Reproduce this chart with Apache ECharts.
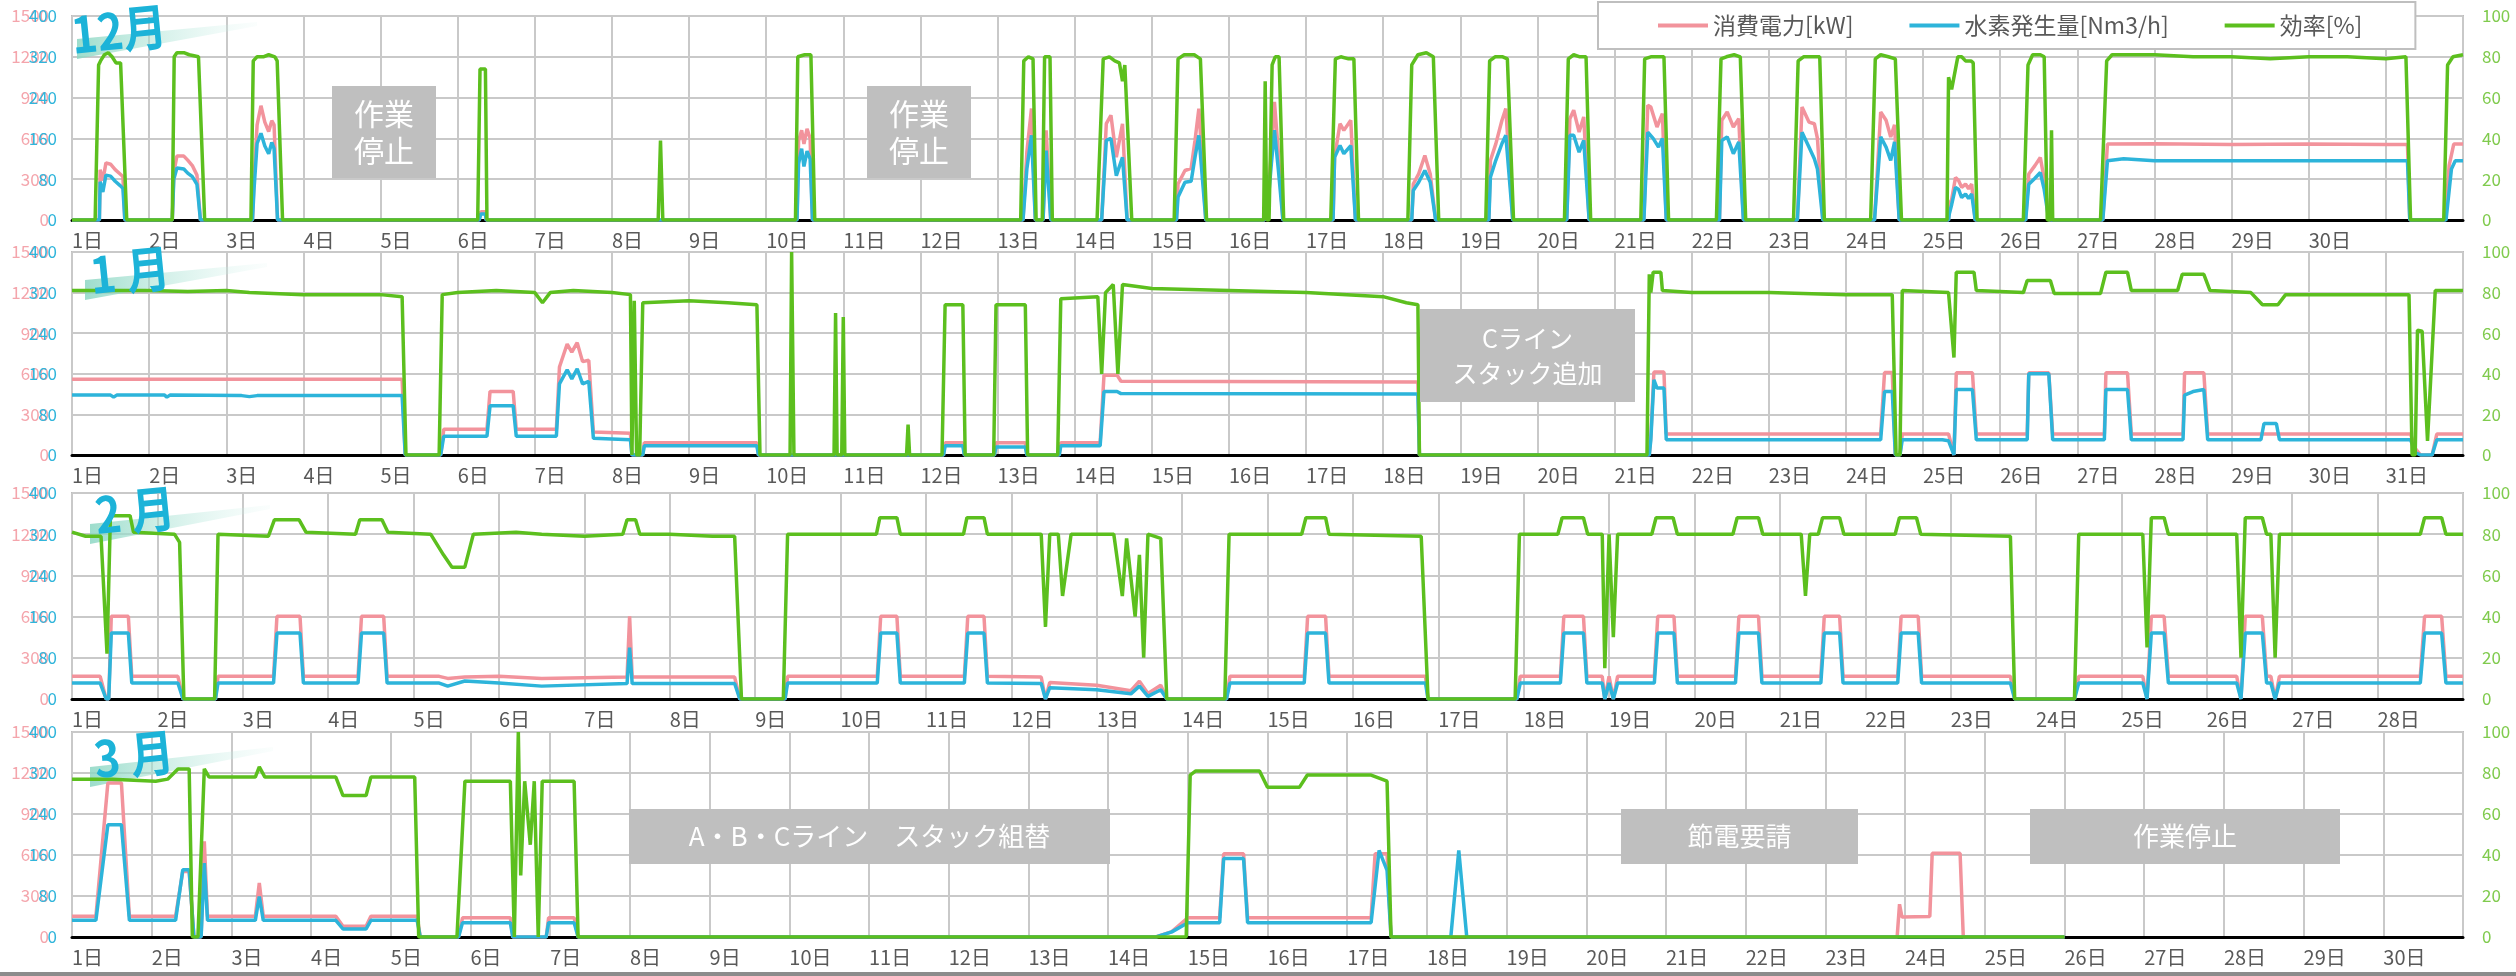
<!DOCTYPE html>
<html><head><meta charset="utf-8">
<script src="https://cdn.jsdelivr.net/npm/echarts@6/dist/echarts.min.js"></script>
<style>html,body{margin:0;padding:0;background:#fff}#c{width:2516px;height:976px}</style>
</head><body><div id="c"></div>
<script>
// ---------- data ----------
const seriesNames = ['消費電力[kW]', '水素発生量[Nm3/h]', '効率[%]'];
const monthTitles = ['12月', '1 月', '2 月', '3 月'];
const panelDays = [31, 31, 28, 30];
const labeledDays = [30, 31, 28, 30];
const powerAxis = [0, 1500, 300];
const h2Axis = [0, 400, 80];
const effAxis = [0, 100, 20];

// [day offset from 1日 00:00, value]
const decPower = [[0,0],
[0.355,0],[0.365,370],[0.40,290],[0.44,420],[0.50,410],[0.56,370],[0.62,340],[0.66,320],[0.685,0],
[1.30,0],[1.32,350],[1.36,470],[1.45,470],[1.50,440],[1.56,400],[1.62,330],[1.665,0],
[2.34,0],[2.36,300],[2.40,700],[2.45,840],[2.50,720],[2.55,650],[2.59,730],[2.62,700],[2.665,0],
[5.28,0],[5.30,60],[5.36,60],[5.37,0],
[9.40,0],[9.42,580],[9.46,660],[9.49,560],[9.53,670],[9.57,600],[9.60,0],
[12.33,0],[12.38,500],[12.44,820],[12.49,0],[12.59,0],[12.63,660],[12.69,0],
[13.35,0],[13.41,708],[13.47,770],[13.54,462],[13.62,708],[13.68,0],
[14.32,0],[14.34,265],[14.43,364],[14.51,380],[14.56,585],[14.61,819],[14.70,0],
[15.46,0],[15.50,100],[15.55,500],[15.59,868],[15.64,500],[15.70,0],
[16.35,0],[16.37,462],[16.44,708],[16.49,659],[16.58,733],[16.64,0],
[17.37,0],[17.39,265],[17.46,339],[17.54,474],[17.61,339],[17.68,0],
[18.37,0],[18.39,437],[18.46,560],[18.54,733],[18.59,819],[18.68,0],
[19.38,0],[19.42,745],[19.47,807],[19.54,647],[19.60,758],[19.67,0],
[20.38,0],[20.43,843],[20.47,830],[20.55,684],[20.62,782],[20.67,0],
[21.36,0],[21.39,733],[21.46,794],[21.54,684],[21.61,745],[21.67,0],
[22.37,0],[22.43,831],[22.52,720],[22.59,708],[22.63,600],[22.70,0],
[23.37,0],[23.45,794],[23.52,733],[23.58,610],[23.63,700],[23.69,0],
[24.33,0],[24.34,117],[24.37,150],[24.42,313],[24.46,290],[24.50,240],[24.55,264],[24.59,230],[24.63,264],[24.675,0],
[25.33,0],[25.37,338],[25.45,400],[25.52,460],[25.57,300],[25.63,0],
[26.33,0],[26.39,558],[27.0,560],[28.0,556],[29.0,558],[30.0,555],[30.28,555],[30.31,0],[30.77,0],[30.82,400],[30.88,558],[31,558]];

const decH2 = [[0,0],
[0.355,0],[0.365,75],[0.40,55],[0.44,88],[0.50,86],[0.56,76],[0.62,68],[0.66,62],[0.685,0],
[1.30,0],[1.32,80],[1.36,102],[1.45,100],[1.50,92],[1.56,85],[1.62,70],[1.665,0],
[2.34,0],[2.36,60],[2.40,150],[2.45,170],[2.50,145],[2.55,130],[2.59,152],[2.62,140],[2.665,0],
[5.28,0],[5.30,12],[5.36,12],[5.37,0],
[9.40,0],[9.42,110],[9.46,140],[9.49,105],[9.53,135],[9.57,120],[9.60,0],
[12.33,0],[12.38,100],[12.44,166],[12.49,0],[12.59,0],[12.63,136],[12.69,0],
[13.35,0],[13.41,156],[13.47,160],[13.54,87],[13.62,123],[13.68,0],
[14.32,0],[14.34,45],[14.43,74],[14.51,76],[14.56,123],[14.61,166],[14.70,0],
[15.46,0],[15.50,20],[15.55,110],[15.59,176],[15.64,100],[15.70,0],
[16.35,0],[16.37,123],[16.44,146],[16.49,130],[16.58,146],[16.64,0],
[17.37,0],[17.39,58],[17.46,74],[17.54,97],[17.61,74],[17.68,0],
[18.37,0],[18.39,84],[18.46,117],[18.54,150],[18.59,166],[18.68,0],
[19.38,0],[19.42,166],[19.47,166],[19.54,133],[19.60,156],[19.67,0],
[20.38,0],[20.43,172],[20.50,160],[20.57,143],[20.62,160],[20.67,0],
[21.36,0],[21.39,156],[21.46,163],[21.54,130],[21.61,153],[21.67,0],
[22.37,0],[22.43,172],[22.52,143],[22.59,120],[22.63,100],[22.70,0],
[23.37,0],[23.45,163],[23.52,143],[23.58,117],[23.63,153],[23.69,0],
[24.33,0],[24.34,12],[24.37,30],[24.42,64],[24.46,60],[24.50,44],[24.55,51],[24.59,42],[24.63,51],[24.675,0],
[25.33,0],[25.37,70],[25.45,82],[25.52,93],[25.57,60],[25.63,0],
[26.33,0],[26.39,116],[26.6,120],[26.8,118],[27.0,116],[30.28,116],[30.31,0],[30.78,0],[30.85,100],[30.90,116],[31,116]];

const decEff = [[0,0],
[0.30,0],[0.345,76],[0.37,78],[0.42,81],[0.47,82],[0.52,80],[0.57,77],[0.63,77],[0.71,0],
[1.30,0],[1.325,80],[1.36,82],[1.45,82],[1.52,81],[1.64,80],[1.72,0],
[2.32,0],[2.35,78],[2.40,80],[2.48,80],[2.55,81],[2.63,80],[2.66,78],[2.73,0],
[5.26,0],[5.29,74],[5.36,74],[5.38,0],
[7.60,0],[7.63,39],[7.66,0],
[9.38,0],[9.41,80],[9.50,81],[9.58,81],[9.63,0],
[12.30,0],[12.34,78],[12.40,80],[12.46,79],[12.50,0],[12.58,0],[12.61,80],[12.68,80],[12.71,0],
[13.29,0],[13.37,79],[13.45,80],[13.52,78],[13.58,77],[13.62,68],[13.65,76],[13.74,0],
[14.29,0],[14.34,79],[14.42,81],[14.55,81],[14.63,79],[14.71,0],
[15.45,0],[15.47,68],[15.49,0],[15.52,0],[15.56,76],[15.60,80],[15.65,80],[15.71,0],
[16.32,0],[16.38,79],[16.45,80],[16.55,79],[16.62,79],[16.68,0],
[17.32,0],[17.37,76],[17.45,81],[17.56,82],[17.65,80],[17.72,0],
[18.33,0],[18.38,78],[18.45,80],[18.55,80],[18.61,79],[18.69,0],
[19.35,0],[19.40,79],[19.47,81],[19.55,80],[19.63,80],[19.69,0],
[20.34,0],[20.39,79],[20.47,80],[20.57,80],[20.64,80],[20.70,0],
[21.32,0],[21.38,79],[21.45,80],[21.55,81],[21.63,80],[21.70,0],
[22.32,0],[22.38,78],[22.45,80],[22.55,80],[22.66,80],[22.72,0],
[23.32,0],[23.38,79],[23.45,81],[23.55,80],[23.64,79],[23.72,0],
[24.31,0],[24.33,70],[24.37,64],[24.45,80],[24.50,80],[24.55,78],[24.62,78],[24.65,77],[24.70,0],
[25.30,0],[25.36,76],[25.42,81],[25.52,81],[25.57,80],[25.61,0],[25.65,0],[25.665,44],[25.68,0],
[26.30,0],[26.38,78],[26.45,81],[27.0,81],[27.5,80],[28.0,80],[28.5,79],[29.0,80],[29.5,80],[30.0,79],[30.26,80],[30.32,0],[30.75,0],[30.80,76],[30.87,80],[31,81]];

const janPower = [[0,560],[4.28,560],[4.32,0],[4.78,0],[4.82,190],[5.38,190],[5.42,470],[5.72,470],[5.76,190],[6.28,190],[6.32,650],[6.42,820],[6.48,760],[6.55,830],[6.62,690],[6.70,700],[6.76,170],[7.24,160],[7.26,0],[7.40,0],[7.42,90],[8.88,90],[8.90,0],[11.3,0],[11.32,90],[11.55,90],[11.57,0],[11.96,0],[11.98,90],[12.36,90],[12.38,0],[12.8,0],[12.82,90],[13.33,90],[13.38,590],[13.55,590],[13.6,545],[17.45,540],[17.47,0],[20.45,0],[20.47,140],[20.51,613],[20.64,613],[20.67,155],[23.45,155],[23.50,609],[23.60,609],[23.64,0],[23.70,0],[23.73,155],[24.33,155],[24.40,0],[24.43,607],[24.64,607],[24.69,155],[25.35,155],[25.37,607],[25.63,607],[25.68,155],[26.35,155],[26.37,607],[26.65,607],[26.70,155],[27.37,155],[27.39,607],[27.64,607],[27.69,155],[30.32,155],[30.38,49],[30.45,0],[30.6,0],[30.66,155],[31,155]];

const janH2 = [[0,118],[0.5,118],[0.54,114],[0.58,118],[1.2,118],[1.23,114],[1.27,118],[2.2,117],[2.3,115],[2.4,117],[4.28,117],[4.32,0],[4.78,0],[4.82,37],[5.38,37],[5.42,97],[5.72,97],[5.76,37],[6.28,37],[6.32,140],[6.42,168],[6.48,150],[6.55,170],[6.62,140],[6.70,145],[6.76,33],[7.24,30],[7.26,0],[7.40,0],[7.42,18],[8.88,18],[8.90,0],[11.3,0],[11.32,18],[11.55,18],[11.57,0],[11.96,0],[11.98,16],[12.36,16],[12.38,0],[12.8,0],[12.82,18],[13.33,18],[13.38,125],[13.55,125],[13.6,121],[17.45,120],[17.47,0],[20.45,0],[20.47,30],[20.51,148],[20.55,132],[20.64,132],[20.67,30],[23.45,30],[23.50,125],[23.60,125],[23.64,0],[23.70,0],[23.73,30],[24.25,30],[24.33,28],[24.40,0],[24.43,129],[24.64,129],[24.69,30],[25.35,30],[25.37,160],[25.63,160],[25.68,30],[26.35,30],[26.37,129],[26.65,129],[26.70,30],[27.37,30],[27.39,118],[27.5,125],[27.64,129],[27.69,30],[28.38,30],[28.42,62],[28.58,62],[28.62,30],[30.32,30],[30.38,5],[30.45,0],[30.6,0],[30.66,30],[31,30]];

const janEff = [[0,81],[1,81],[1.5,80.5],[2,81],[2.3,80],[3,79],[4,79],[4.28,78],[4.33,0],[4.76,0],[4.80,79],[5,80],[5.5,81],[6.0,80],[6.1,75],[6.2,80],[6.5,81],[7.0,80],[7.24,79],[7.26,0],[7.29,76],[7.32,0],[7.36,0],[7.40,75],[8.0,76],[8.5,75],[8.88,74],[8.92,0],[9.31,0],[9.33,100],[9.36,0],[9.88,0],[9.90,70],[9.92,0],[9.98,0],[10.0,68],[10.02,0],[10.82,0],[10.84,15],[10.86,0],[11.28,0],[11.32,74],[11.55,74],[11.58,0],[11.95,0],[11.98,74],[12.36,74],[12.39,0],[12.78,0],[12.82,77],[13.3,78],[13.35,40],[13.40,80],[13.5,84],[13.56,40],[13.62,84],[14.0,82],[15.0,81],[16.0,80],[17.0,78],[17.3,75],[17.45,74],[17.47,0],[20.42,0],[20.45,89],[20.47,80],[20.5,90],[20.6,90],[20.62,81],[21.0,80],[22.0,80],[23.0,79],[23.6,79],[23.65,0],[23.70,0],[23.73,81],[24.33,80],[24.40,48],[24.43,90],[24.66,90],[24.69,81],[25.3,80],[25.35,86],[25.65,86],[25.7,79.5],[26.3,79.5],[26.37,90],[26.65,90],[26.7,81],[27.3,81],[27.36,89],[27.64,89],[27.72,81],[28.25,80],[28.4,74],[28.6,74],[28.7,79],[29.5,79],[30.3,79],[30.34,0],[30.38,0],[30.41,61.5],[30.47,61],[30.54,7],[30.64,81],[31,81]];

const febPower = [[0,165],[0.33,165],[0.40,0],[0.43,0],[0.46,602],[0.66,602],[0.70,165],[1.24,165],[1.30,0],[1.68,0],[1.71,165],[2.36,165],[2.40,602],[2.67,602],[2.71,165],[3.35,165],[3.39,602],[3.65,602],[3.69,165],[4.3,165],[4.4,150],[4.6,160],[5.0,165],[5.5,150],[6.5,160],[6.53,602],[6.56,160],[7.76,160],[7.82,0],[8.35,0],[8.38,165],[9.43,165],[9.47,602],[9.66,602],[9.70,165],[10.45,165],[10.49,602],[10.68,602],[10.72,165],[11.35,160],[11.4,0],[11.45,120],[12.0,100],[12.4,60],[12.5,130],[12.6,40],[12.75,100],[12.82,0],[13.52,0],[13.56,165],[14.43,165],[14.47,602],[14.68,602],[14.72,165],[15.85,165],[15.88,0],[16.92,0],[16.96,165],[17.43,165],[17.47,602],[17.70,602],[17.74,165],[17.92,165],[17.95,0],[18.0,165],[18.05,0],[18.1,165],[18.53,165],[18.57,602],[18.76,602],[18.8,165],[19.48,165],[19.52,602],[19.75,602],[19.79,165],[20.48,165],[20.52,602],[20.70,602],[20.74,165],[21.38,165],[21.42,602],[21.62,602],[21.66,165],[22.70,165],[22.75,0],[23.45,0],[23.5,165],[24.25,165],[24.3,0],[24.35,602],[24.5,602],[24.55,165],[25.35,165],[25.4,0],[25.45,602],[25.65,602],[25.7,165],[25.75,165],[25.8,0],[25.85,165],[27.5,165],[27.55,602],[27.75,602],[27.8,165],[28,165]];

const febH2 = [[0,31],[0.33,31],[0.40,0],[0.43,0],[0.46,128],[0.66,128],[0.70,31],[1.24,31],[1.30,0],[1.68,0],[1.71,31],[2.36,31],[2.40,128],[2.67,128],[2.71,31],[3.35,31],[3.39,128],[3.65,128],[3.69,31],[4.3,31],[4.4,25],[4.6,35],[5.0,31],[5.5,25],[6.5,30],[6.53,100],[6.56,30],[7.76,30],[7.82,0],[8.35,0],[8.38,31],[9.43,31],[9.47,128],[9.66,128],[9.70,31],[10.45,31],[10.49,128],[10.68,128],[10.72,31],[11.35,30],[11.4,0],[11.45,22],[12.0,18],[12.4,10],[12.5,25],[12.6,5],[12.75,18],[12.82,0],[13.52,0],[13.56,31],[14.43,31],[14.47,128],[14.68,128],[14.72,31],[15.85,31],[15.88,0],[16.92,0],[16.96,31],[17.43,31],[17.47,128],[17.70,128],[17.74,31],[17.92,31],[17.95,0],[18.0,31],[18.05,0],[18.1,31],[18.53,31],[18.57,128],[18.76,128],[18.8,31],[19.48,31],[19.52,128],[19.75,128],[19.79,31],[20.48,31],[20.52,128],[20.70,128],[20.74,31],[21.38,31],[21.42,128],[21.62,128],[21.66,31],[22.70,31],[22.75,0],[23.45,0],[23.5,31],[24.25,31],[24.3,0],[24.35,128],[24.5,128],[24.55,31],[25.35,31],[25.4,0],[25.45,128],[25.65,128],[25.7,31],[25.75,31],[25.8,0],[25.85,31],[27.5,31],[27.55,128],[27.75,128],[27.8,31],[28,31]];

const febEff = [[0,81],[0.16,79],[0.34,79],[0.41,22],[0.45,89],[0.68,89],[0.72,81],[1.2,80],[1.26,76],[1.31,0],[1.67,0],[1.71,80],[2.3,79],[2.37,87],[2.66,87],[2.74,81],[3.32,80],[3.37,87],[3.63,87],[3.70,81],[4.2,80],[4.35,70],[4.45,64],[4.6,64],[4.7,80],[5.2,81],[5.5,80],[6.0,79],[6.45,80],[6.5,87],[6.6,87],[6.65,80],[7.0,80],[7.5,79],[7.76,79],[7.84,0],[8.33,0],[8.38,80],[9.0,80],[9.42,80],[9.46,88],[9.66,88],[9.70,80],[10.44,80],[10.48,88],[10.68,88],[10.72,80],[11.2,80],[11.35,80],[11.4,35],[11.45,80],[11.55,80],[11.6,50],[11.7,80],[12.2,80],[12.3,50],[12.35,78],[12.45,40],[12.5,70],[12.55,20],[12.6,80],[12.75,78],[12.82,0],[13.5,0],[13.55,80],[14.4,80],[14.45,88],[14.68,88],[14.72,80],[15.8,79],[15.88,0],[16.9,0],[16.95,80],[17.4,80],[17.45,88],[17.7,88],[17.75,80],[17.92,80],[17.95,15],[18.0,80],[18.05,30],[18.1,80],[18.5,80],[18.55,88],[18.75,88],[18.8,80],[19.45,80],[19.5,88],[19.75,88],[19.8,80],[20.25,80],[20.3,50],[20.35,80],[20.45,80],[20.5,88],[20.7,88],[20.75,80],[21.35,80],[21.4,88],[21.6,88],[21.65,80],[22.7,79],[22.75,0],[23.45,0],[23.5,80],[24.25,80],[24.3,25],[24.35,88],[24.5,88],[24.55,80],[25.35,80],[25.4,20],[25.45,88],[25.65,88],[25.7,80],[25.75,80],[25.8,20],[25.85,80],[27.5,80],[27.55,88],[27.75,88],[27.8,80],[28,80]];

const marPower = [[0,151],[0.3,151],[0.45,1127],[0.62,1127],[0.72,151],[1.3,151],[1.39,480],[1.47,480],[1.53,0],[1.62,0],[1.66,700],[1.70,151],[2.3,151],[2.35,395],[2.40,151],[3.31,151],[3.4,78],[3.69,78],[3.75,151],[4.33,151],[4.37,0],[4.85,0],[4.9,141],[5.5,141],[5.53,0],[5.95,0],[5.98,141],[6.3,141],[6.35,0],[13.6,0],[13.8,40],[14.0,141],[14.4,141],[14.45,609],[14.7,609],[14.75,141],[16.3,141],[16.35,609],[16.5,609],[16.55,0],[22.90,0],[22.93,240],[22.96,147],[23.31,150],[23.34,612],[23.69,612],[23.73,0],[25,0]];

const marH2 = [[0,32.5],[0.3,32.5],[0.45,219],[0.62,219],[0.72,32.5],[1.3,32.5],[1.39,131],[1.47,131],[1.53,0],[1.62,0],[1.66,144],[1.70,32.5],[2.3,32.5],[2.35,79],[2.40,32.5],[3.31,32.5],[3.4,15.6],[3.69,15.6],[3.75,32.5],[4.33,32.5],[4.37,0],[4.85,0],[4.9,28],[5.5,28],[5.53,0],[5.95,0],[5.98,28],[6.3,28],[6.35,0],[13.6,0],[13.8,10],[14.0,28],[14.4,28],[14.45,153],[14.7,153],[14.75,28],[16.3,28],[16.4,169],[16.5,130],[16.55,0],[17.3,0],[17.4,169],[17.5,0],[25,0]];

const marEff = [[0,77],[0.5,77],[1.05,76],[1.2,77],[1.33,82],[1.47,82],[1.51,0],[1.58,0],[1.66,82],[1.72,78],[2.3,78],[2.35,83],[2.42,78],[3.31,78],[3.4,69],[3.69,69],[3.75,78],[4.3,78],[4.35,0],[4.83,0],[4.93,76],[5.5,76],[5.55,0],[5.6,100],[5.63,30],[5.68,76],[5.75,45],[5.8,76],[5.85,0],[5.9,76],[6.3,76],[6.35,0],[13.98,0],[14.03,79],[14.1,81],[14.9,81],[15.0,73],[15.4,73],[15.5,79],[16.3,79],[16.5,76],[16.55,0],[25,0]];

const powerData = [decPower, janPower, febPower, marPower];
const h2Data = [decH2, janH2, febH2, marH2];
const effData = [decEff, janEff, febEff, marEff];

// ---------- layout / style ----------
const FONT = '"Noto Sans CJK JP","Noto Sans",sans-serif';
const C_PINK = '#F2939C', C_BLUE = '#2DB4DA', C_GREEN = '#5CBF1E';
const L_PINK = '#F4A5AC', L_BLUE = '#30B5DB', L_GREEN = '#80CB4E';
const GRID_C = '#C9C9C9';
const tops = [16, 252, 493, 732];
const heights = [204, 203, 206, 205];
const plain = v => String(Math.round(v));

const grids = [], xAxes = [], yAxes = [], series = [];
for (let i = 0; i < 4; i++) {
  grids.push({left: 72, right: 53, top: tops[i], height: heights[i], show: true,
    borderColor: '#BDBDBD', borderWidth: 2, backgroundColor: '#fff'});
  const nLab = labeledDays[i];
  xAxes.push({type: 'value', gridIndex: i, min: 0, max: panelDays[i], interval: 1,
    axisLine: {show: true, onZero: false, lineStyle: {color: '#000', width: 3}},
    axisTick: {show: false},
    splitLine: {show: true, lineStyle: {color: GRID_C, width: 2}},
    axisLabel: {show: true, align: 'left', margin: 10, fontSize: 20, color: '#595959', fontFamily: FONT,
      formatter: v => { const d = Math.round(v); return d < nLab ? (d + 1) + '日' : ''; }}});
  yAxes.push({type: 'value', gridIndex: i, position: 'left', min: powerAxis[0], max: powerAxis[1], interval: powerAxis[2],
    axisLine: {show: false}, axisTick: {show: false}, splitLine: {show: false},
    axisLabel: {color: L_PINK, fontSize: 17, margin: 23, padding: [0, 0, 10, 0], fontFamily: FONT, formatter: plain}});
  yAxes.push({type: 'value', gridIndex: i, position: 'left', min: h2Axis[0], max: h2Axis[1], interval: h2Axis[2],
    axisLine: {show: false}, axisTick: {show: false}, splitLine: {show: false},
    axisLabel: {color: L_BLUE, fontSize: 17, margin: 15, padding: [14, 0, 0, 0], fontFamily: FONT, formatter: plain}});
  yAxes.push({type: 'value', gridIndex: i, position: 'right', min: effAxis[0], max: effAxis[1], interval: effAxis[2],
    axisLine: {show: false}, axisTick: {show: false},
    splitLine: {show: true, lineStyle: {color: GRID_C, width: 2}},
    axisLabel: {color: L_GREEN, fontSize: 17, margin: 19, align: 'left', fontFamily: FONT, formatter: plain}});
  const mk = (name, data, yi, color, z) => ({name, type: 'line', xAxisIndex: i, yAxisIndex: yi, data,
    symbol: 'none', showSymbol: false, z, lineStyle: {color, width: 3.5}, itemStyle: {color}, animation: false});
  series.push(mk(seriesNames[0], powerData[i], 3 * i, C_PINK, 2));
  series.push(mk(seriesNames[1], h2Data[i], 3 * i + 1, C_BLUE, 3));
  series.push(mk(seriesNames[2], effData[i], 3 * i + 2, C_GREEN, 4));
}

// annotations (gray boxes)
const boxes = [
  {x: 332, y: 86, w: 104, h: 92, text: '作業\n停止', fs: 30, lh: 37},
  {x: 867, y: 86, w: 104, h: 92, text: '作業\n停止', fs: 30, lh: 37},
  {x: 1420, y: 309, w: 215, h: 93, text: 'Cライン\nスタック追加', fs: 25, lh: 35},
  {x: 629, y: 809, w: 481, h: 55, text: 'A・B・Cライン　スタック組替', fs: 26, lh: 30},
  {x: 1621, y: 809, w: 237, h: 55, text: '節電要請', fs: 26, lh: 30},
  {x: 2030, y: 809, w: 310, h: 55, text: '作業停止', fs: 26, lh: 30}
];
const graphic = [];
boxes.forEach(b => {
  graphic.push({type: 'rect', z: 10, shape: {x: b.x, y: b.y, width: b.w, height: b.h}, style: {fill: '#BFBFBF'}});
  graphic.push({type: 'text', z: 11, x: b.x + b.w / 2, y: b.y + b.h / 2,
    style: {text: b.text, fill: '#fff', fontSize: b.fs, lineHeight: b.lh, fontFamily: FONT, align: 'center', verticalAlign: 'middle'}});
});
// month badges
const badge = [
  {tx: 119, ty: 30, wx: 77, wy: 39, wr: 257, wry: 22},
  {tx: 130, ty: 271, wx: 85, wy: 280, wr: 267, wry: 263},
  {tx: 135, ty: 511, wx: 90, wy: 524, wr: 270, wry: 505},
  {tx: 134, ty: 755, wx: 90, wy: 767, wr: 273, wry: 747}
];
badge.forEach((b, i) => {
  graphic.push({type: 'polygon', z: 1,
    shape: {points: [[b.wx, b.wy], [b.wr, b.wry], [b.wr, b.wry + 4], [b.wx, b.wy + 20]]},
    style: {fill: new echarts.graphic.LinearGradient(0, 0, 1, 0, [
      {offset: 0, color: 'rgba(140,215,195,0.85)'}, {offset: 1, color: 'rgba(210,242,235,0.1)'}])}});
  graphic.push({type: 'text', z: 12, x: b.tx, y: b.ty, rotation: 0.1, scaleX: 0.88,
    style: {text: monthTitles[i], fill: '#1CB3D8', fontSize: 50, fontWeight: 'bold', fontFamily: FONT,
      align: 'center', verticalAlign: 'middle'}});
});
graphic.push({type: 'rect', z: 10, shape: {x: 0, y: 972, width: 2516, height: 4}, style: {fill: '#8C8C8C'}});

const option = {
  animation: false,
  backgroundColor: '#fff',
  textStyle: {fontFamily: FONT},
  legend: {show: true, data: seriesNames, left: 1598, top: 2, orient: 'horizontal',
    icon: 'rect', itemWidth: 50, itemHeight: 4, itemGap: 56, padding: [12, 53, 12, 60],
    borderColor: '#BFBFBF', borderWidth: 2, backgroundColor: '#fff', z: 20,
    textStyle: {fontSize: 23, color: '#595959', fontFamily: FONT}},
  grid: grids, xAxis: xAxes, yAxis: yAxes, series, graphic
};
const chart = echarts.init(document.getElementById('c'), null, {renderer: 'canvas', width: 2516, height: 976});
chart.setOption(option);
</script></body></html>
